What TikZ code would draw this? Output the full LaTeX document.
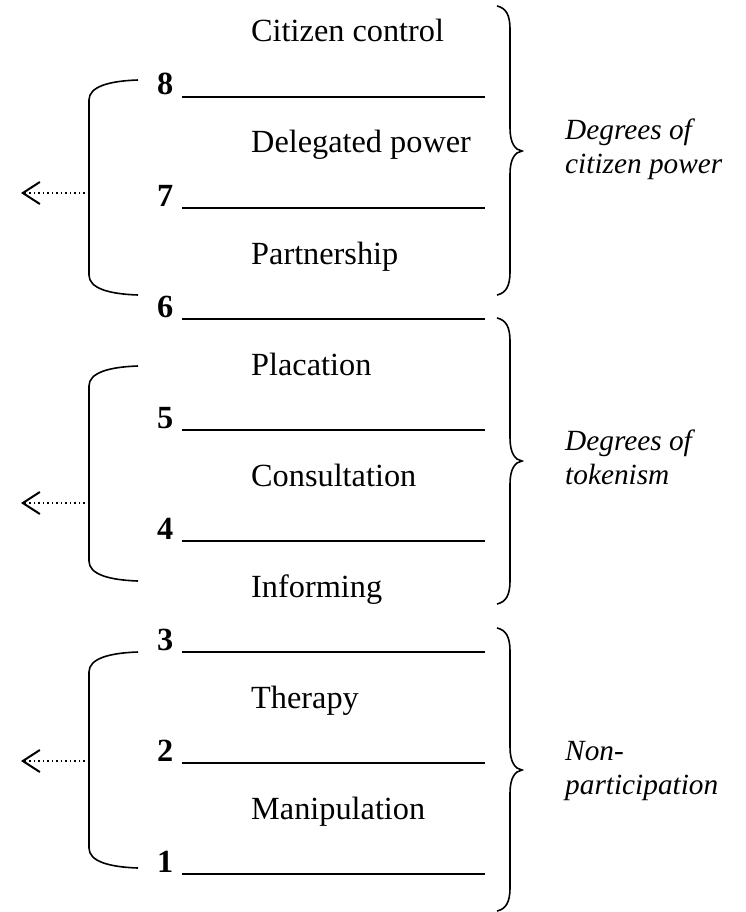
\documentclass[tikz,border=0pt]{standalone}
\usepackage{fontspec}
\setmainfont{Liberation Serif}
\usetikzlibrary{arrows.meta}
\begin{document}
\begin{tikzpicture}[x=1pt,y=-1pt,
  rungtext/.style={anchor=base west,inner sep=0pt,font=\fontsize{32.3}{36}\selectfont},
  numtext/.style={anchor=base west,inner sep=0pt,font=\fontsize{32.3}{36}\selectfont\bfseries},
  sidetext/.style={anchor=base west,inner sep=0pt,font=\fontsize{29.3}{34}\selectfont\itshape},
  rungline/.style={line width=1.5pt},
  bracketline/.style={line width=1.6pt},
  dotarrow/.style={line width=1.5pt,dash pattern=on 1.5pt off 3pt,
    -{Straight Barb[length=17pt,width=22pt,line width=2pt]}}]
\useasboundingbox (0,0) rectangle (745,912);
% rung labels
\node[rungtext] (cc) at (251,42) {Citizen control};
\node[rungtext] (dp) at (251,153) {Delegated power};
\node[rungtext] (pa) at (251,264) {Partnership};
\node[rungtext] (pl) at (251,375) {Placation};
\node[rungtext] (co) at (251,486) {Consultation};
\node[rungtext] (in) at (251,597) {Informing};
\node[rungtext] (th) at (251,708) {Therapy};
\node[rungtext] (ma) at (251,819) {Manipulation};
% numbers and rungs
\foreach \k/\y in {8/97,7/208,6/319,5/430,4/541,3/652,2/763,1/874}{
  \node[numtext] (n\k) at (157,\y-2) {\k};
  \coordinate (l\k a) at (182,\y);
  \coordinate (l\k b) at (485,\y);
  \draw[rungline] (l\k a) -- (l\k b);
}
% left brackets
\coordinate (b1t) at (138,80); \coordinate (b1b) at (138,295);
\coordinate (b2t) at (138,366); \coordinate (b2b) at (138,581);
\coordinate (b3t) at (138,652); \coordinate (b3b) at (138,868);
\draw[bracketline] (b1t) .. controls (108,81) and (89,87) .. (89,100) -- (89,275) .. controls (89,288) and (108,294) .. (b1b);
\draw[bracketline] (b2t) .. controls (108,367) and (89,373) .. (89,386) -- (89,561) .. controls (89,574) and (108,580) .. (b2b);
\draw[bracketline] (b3t) .. controls (108,653) and (89,659) .. (89,672) -- (89,848) .. controls (89,861) and (108,867) .. (b3b);
% arrows
\coordinate (a1s) at (89,193); \coordinate (a1e) at (21,193);
\coordinate (a2s) at (89,503); \coordinate (a2e) at (21,503);
\coordinate (a3s) at (89,761); \coordinate (a3e) at (21,761);
\draw[dotarrow] (a1s) -- (a1e);
\draw[dotarrow] (a2s) -- (a2e);
\draw[dotarrow] (a3s) -- (a3e);
% right braces
\coordinate (r1t) at (497,6); \coordinate (r1m) at (522,151); \coordinate (r1b) at (497,295);
\coordinate (r2t) at (497,318); \coordinate (r2m) at (522,461); \coordinate (r2b) at (497,604);
\coordinate (r3t) at (497,628); \coordinate (r3m) at (522,770); \coordinate (r3b) at (497,911);
\draw[bracketline] (r1t) .. controls (506,8) and (510,15) .. (510,29) -- (510,128) .. controls (510,143) and (515,150) .. (r1m) .. controls (515,152) and (510,159) .. (510,174) -- (510,272) .. controls (510,286) and (506,293) .. (r1b);
\draw[bracketline] (r2t) .. controls (506,320) and (510,327) .. (510,341) -- (510,438) .. controls (510,453) and (515,460) .. (r2m) .. controls (515,462) and (510,469) .. (510,484) -- (510,581) .. controls (510,595) and (506,602) .. (r2b);
\draw[bracketline] (r3t) .. controls (506,630) and (510,637) .. (510,651) -- (510,747) .. controls (510,762) and (515,769) .. (r3m) .. controls (515,771) and (510,778) .. (510,793) -- (510,888) .. controls (510,902) and (506,909) .. (r3b);
% side labels
\node[sidetext] (s1a) at (565,140) {Degrees of};
\node[sidetext] (s1b) at (565,174) {citizen power};
\node[sidetext] (s2a) at (565,450) {Degrees of};
\node[sidetext] (s2b) at (565,484) {tokenism};
\node[sidetext] (s3a) at (565,760) {Non-};
\node[sidetext] (s3b) at (565,794) {participation};
\end{tikzpicture}
\end{document}
